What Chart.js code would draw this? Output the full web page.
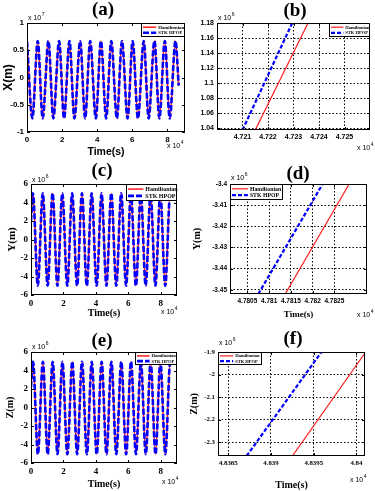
<!DOCTYPE html>
<html>
<head>
<meta charset="utf-8">
<script src="https://cdn.jsdelivr.net/npm/chart.js@4.4.0/dist/chart.umd.min.js"></script>
<style>
html, body { margin: 0; padding: 0; background: #fff; }
#fig { position: relative; width: 375px; height: 491px; overflow: hidden; }
#fig canvas { position: absolute; }
</style>
</head>
<body>
<div id="fig"></div>
<script>
// ---- data (time in s, position in m) ----

// (a) X over one day: start, turning points, end
const xDayTime = [0, 3050, 6100, 8950, 12200, 15000, 18300, 21100, 24200, 27000, 30300, 33100, 36000, 39200, 42100,
    45100, 48000, 51200, 54100, 57300, 60200, 63200, 66500, 69300, 72600, 75400, 78500, 81300, 84600, 86400];
const xDayValue = [0.66e7, -0.75e7, 0.67e7, -0.75e7, 0.67e7, -0.75e7, 0.67e7, -0.75e7, 0.67e7, -0.75e7, 0.67e7, -0.75e7,
    0.67e7, -0.75e7, 0.67e7, -0.75e7, 0.67e7, -0.75e7, 0.67e7, -0.75e7, 0.67e7, -0.75e7, 0.67e7, -0.75e7, 0.67e7,
    -0.75e7, 0.67e7, -0.75e7, 0.67e7, -0.15e7];

// (c) Y over one day
const yDayTime = [0, 1200, 4200, 7250, 10250, 13300, 16300, 19300, 22350, 25400, 28400, 31400, 34400, 37400, 40450,
    43500, 46500, 49500, 52550, 55600, 58600, 61600, 64650, 67700, 70700, 73700, 76700, 79700, 82750, 85800, 86400];
const yDayValue = [2.0e6, 5.0e6, -5.0e6, 5.0e6, -5.0e6, 5.0e6, -5.0e6, 5.0e6, -5.0e6, 5.0e6, -5.0e6, 5.0e6, -5.0e6,
    5.0e6, -5.0e6, 5.0e6, -5.0e6, 5.0e6, -5.0e6, 5.0e6, -5.0e6, 5.0e6, -5.0e6, 5.0e6, -5.0e6, 5.0e6, -5.0e6, 5.0e6,
    -5.0e6, 5.0e6, 4.8e6];

// (e) Z over one day
const zDayTime = [0, 1250, 4250, 7300, 10300, 13350, 16350, 19350, 22400, 25450, 28450, 31450, 34450, 37450, 40500,
    43550, 46550, 49550, 52600, 55650, 58650, 61650, 64700, 67750, 70750, 73750, 76750, 79750, 82800, 85850, 86400];
const zDayValue = [2.2e6, 4.95e6, -5.05e6, 4.95e6, -5.05e6, 4.95e6, -5.05e6, 4.95e6, -5.05e6, 4.95e6, -5.05e6, 4.95e6,
    -5.05e6, 4.95e6, -5.05e6, 4.95e6, -5.05e6, 4.95e6, -5.05e6, 4.95e6, -5.05e6, 4.95e6, -5.05e6, 4.95e6, -5.05e6,
    4.95e6, -5.05e6, 4.95e6, -5.05e6, 4.95e6, 4.7e6];

// (b) zoom on X
const bHamTime = [47215, 47235.7];
const bHamValue = [1.0377e6, 1.18e6];
const bHpopTime = [47210, 47229.5];
const bHpopValue = [1.0377e6, 1.18e6];

// (d) zoom on Y
const dHamTime = [47813.7, 47828.4];
const dHamValue = [-3.452e6, -3.4e6];
const dHpopTime = [47807.5, 47822.3];
const dHpopValue = [-3.452e6, -3.4e6];

// (f) zoom on Z
const fHamTime = [48392.5, 48400.9];
const fHamValue = [-2.361e6, -1.91e6];
const fHpopTime = [48387.15, 48395.9];
const fHpopValue = [-2.361e6, -1.9e6];

// tick values
const dayTimeTicks = [0, 20000, 40000, 60000, 80000];
const aYTicks = [-1e7, -0.5e7, 0, 0.5e7, 1e7];
const ceYTicks = [-6e6, -4e6, -2e6, 0, 2e6, 4e6, 6e6];
const bXTicks = [47210, 47220, 47230, 47240, 47250];
const bYTicks = [1.04e6, 1.06e6, 1.08e6, 1.1e6, 1.12e6, 1.14e6, 1.16e6, 1.18e6];
const dXTicks = [47805, 47810, 47815, 47820, 47825];
const dYTicks = [-3.45e6, -3.44e6, -3.43e6, -3.42e6, -3.41e6, -3.4e6];
const fXTicks = [48385, 48390, 48395, 48400];
const fYTicks = [-2.3e6, -2.2e6, -2.1e6, -2e6, -1.9e6];

const seriesNames = ['Hamiltonian', 'STK HPOP'];

const SANS = '"Liberation Sans", Arial, sans-serif';
const SERIF = '"Liberation Serif", "Times New Roman", serif';

const pts = (t, v) => t.map((x, i) => ({ x: x, y: v[i] }));
const fmt = (v, e) => String(+(v / Math.pow(10, e)).toPrecision(6));

function drawExp(ctx, x, y, pow) {
    ctx.font = '7px ' + SANS;
    ctx.textAlign = 'left';
    ctx.textBaseline = 'middle';
    ctx.fillText('x 10', x, y);
    const w = ctx.measureText('x 10').width;
    ctx.font = '5px ' + SANS;
    ctx.fillText(String(pow), x + w + 0.5, y - 3);
}

// MATLAB-like frame, panel letter, exponents and in-axes legend
const matlabFrame = {
    id: 'matlabFrame',
    afterDraw(chart, args, o) {
        const ctx = chart.ctx;
        const a = chart.chartArea;
        const bx = o.box.x, by = o.box.y;
        const xs = chart.scales.x, ys = chart.scales.y;
        ctx.save();
        ctx.strokeStyle = '#000';
        ctx.lineWidth = 1;
        ctx.setLineDash([]);
        ctx.beginPath();
        xs.ticks.forEach(t => {
            const px = Math.round(xs.getPixelForValue(t.value)) + 0.5;
            ctx.moveTo(px, a.bottom); ctx.lineTo(px, a.bottom - 3);
            ctx.moveTo(px, a.top); ctx.lineTo(px, a.top + 3);
        });
        ys.ticks.forEach(t => {
            const py = Math.round(ys.getPixelForValue(t.value)) + 0.5;
            ctx.moveTo(a.left, py); ctx.lineTo(a.left + 3, py);
            ctx.moveTo(a.right, py); ctx.lineTo(a.right - 3, py);
        });
        ctx.stroke();
        ctx.strokeRect(Math.round(a.left) + 0.5, Math.round(a.top) + 0.5, Math.round(a.width) - 1, Math.round(a.height) - 1);

        ctx.fillStyle = '#000';
        ctx.font = 'bold 19px ' + SERIF;
        ctx.textAlign = 'center';
        ctx.textBaseline = 'middle';
        ctx.fillText(o.title, o.titleAt[0] - bx, o.titleAt[1] - by);

        drawExp(ctx, o.yExp[0] - bx, o.yExp[1] - by, o.yExp[2]);
        drawExp(ctx, o.xExp[0] - bx, o.xExp[1] - by, o.xExp[2]);

        // legend
        const [lx, ly, lw, lh, fs] = o.legend;
        const x0 = lx - bx, y0 = ly - by;
        ctx.fillStyle = '#fff';
        ctx.fillRect(x0, y0, lw, lh);
        ctx.strokeRect(Math.round(x0) + 0.5, Math.round(y0) + 0.5, Math.round(lw) - 1, Math.round(lh) - 1);
        const lineLen = lw * 0.3;
        chart.data.datasets.forEach((ds, i) => {
            const yy = y0 + lh * (i === 0 ? 0.3 : 0.7);
            ctx.strokeStyle = ds.borderColor;
            ctx.lineWidth = ds.borderWidth;
            ctx.setLineDash(ds.borderDash || []);
            ctx.beginPath();
            ctx.moveTo(x0 + 2, yy);
            ctx.lineTo(x0 + 2 + lineLen, yy);
            ctx.stroke();
            ctx.setLineDash([]);
            ctx.fillStyle = '#000';
            ctx.font = 'bold ' + fs + 'px ' + SERIF;
            ctx.textAlign = 'left';
            ctx.fillText(ds.label, x0 + 4 + lineLen, yy + 0.3);
        });
        ctx.restore();
    }
};

function makePanel(p) {
    const canvas = document.createElement('canvas');
    canvas.width = p.box.w;
    canvas.height = p.box.h;
    canvas.style.left = p.box.x + 'px';
    canvas.style.top = p.box.y + 'px';
    canvas.style.width = p.box.w + 'px';
    canvas.style.height = p.box.h + 'px';
    document.getElementById('fig').appendChild(canvas);

    const lh = s => s * 1.2;
    const padTop = p.area.t - p.box.y;
    const padRight = p.box.x + p.box.w - p.area.r;
    const padLeft = p.yTitle ? p.yTitle.x - lh(p.yTitle.size) / 2 - p.box.x : 0;
    const padBottom = p.xTitle ? p.box.y + p.box.h - p.xTitle.y - lh(p.xTitle.size) / 2 : 0;
    const yWidth = p.area.l - p.box.x - padLeft;
    const xHeight = p.box.y + p.box.h - padBottom - p.area.b;

    const zoomed = !!p.grid;
    const gridOpts = zoomed
        ? { display: true, drawTicks: false, color: '#000', lineWidth: 1 }
        : { display: false, drawTicks: false };
    const borderOpts = { display: false, dash: [1.5, 2] };
    const tickFont = { family: p.tickFamily, size: p.tickSize, weight: 'bold' };

    return new Chart(canvas.getContext('2d'), {
        type: 'line',
        data: {
            datasets: [
                {
                    label: seriesNames[0],
                    data: pts(p.ham[0], p.ham[1]),
                    borderColor: '#ff1a1a',
                    borderWidth: zoomed ? 1.2 : 1.5,
                    pointRadius: 0,
                    cubicInterpolationMode: zoomed ? 'default' : 'monotone',
                    order: 1
                },
                {
                    label: seriesNames[1],
                    data: pts(p.hpop[0], p.hpop[1]),
                    borderColor: '#0000ff',
                    borderWidth: zoomed ? 2.2 : 2.6,
                    borderDash: zoomed ? [4, 2] : [6, 2],
                    pointRadius: 0,
                    cubicInterpolationMode: zoomed ? 'default' : 'monotone',
                    order: 0
                }
            ]
        },
        options: {
            responsive: false,
            animation: false,
            devicePixelRatio: 1,
            layout: { padding: { top: padTop, right: padRight, left: padLeft, bottom: padBottom } },
            plugins: {
                legend: { display: false },
                tooltip: { enabled: false },
                matlabFrame: p.frame
            },
            scales: {
                x: {
                    type: 'linear',
                    min: p.xRange[0],
                    max: p.xRange[1],
                    grid: gridOpts,
                    border: borderOpts,
                    afterBuildTicks: s => { s.ticks = p.xTicks.map(v => ({ value: v })); },
                    afterFit: s => { s.height = xHeight; },
                    ticks: {
                        font: tickFont, color: '#000', padding: 3, maxRotation: 0, autoSkip: false,
                        callback: v => fmt(v, p.xExp)
                    },
                    title: p.xTitle ? {
                        display: true, text: 'Time(s)', color: '#000', padding: 0,
                        font: { family: p.xTitle.family, size: p.xTitle.size, weight: 'bold' }
                    } : { display: false }
                },
                y: {
                    type: 'linear',
                    min: p.yRange[0],
                    max: p.yRange[1],
                    grid: gridOpts,
                    border: borderOpts,
                    afterBuildTicks: s => { s.ticks = p.yTicks.map(v => ({ value: v })); },
                    afterFit: s => { s.width = yWidth; },
                    ticks: {
                        font: tickFont, color: '#000', padding: 3, autoSkip: false,
                        callback: v => fmt(v, p.yExp)
                    },
                    title: p.yTitle ? {
                        display: true, text: p.yTitle.text, color: '#000', padding: 0,
                        font: { family: p.yTitle.family, size: p.yTitle.size, weight: 'bold' }
                    } : { display: false }
                }
            }
        },
        plugins: [matlabFrame]
    });
}

// (a)
makePanel({
    box: { x: 0, y: 0, w: 186, h: 162 },
    area: { l: 27, t: 23, r: 185, b: 132 },
    xRange: [0, 90000], yRange: [-1e7, 1e7],
    xTicks: dayTimeTicks, yTicks: aYTicks, xExp: 4, yExp: 7,
    tickFamily: SANS, tickSize: 8,
    xTitle: { y: 152, size: 10.5, family: SANS },
    yTitle: { x: 9, size: 12, family: SANS, text: 'X(m)' },
    ham: [xDayTime, xDayValue], hpop: [xDayTime, xDayValue],
    frame: { box: { x: 0, y: 0 }, title: '(a)', titleAt: [103, 10], yExp: [28, 18, 7], xExp: [167, 146, 4],
        legend: [141, 23, 44, 14, 4.8] }
});

// (b)
makePanel({
    box: { x: 186, y: 0, w: 189, h: 162 },
    area: { l: 217, t: 23, r: 370, b: 130 },
    xRange: [47200, 47260], yRange: [1.0377e6, 1.18e6],
    xTicks: bXTicks, yTicks: bYTicks, xExp: 4, yExp: 6,
    tickFamily: SANS, tickSize: 7, grid: true,
    ham: [bHamTime, bHamValue], hpop: [bHpopTime, bHpopValue],
    frame: { box: { x: 186, y: 0 }, title: '(b)', titleAt: [295, 11], yExp: [218, 18, 6], xExp: [357, 148, 4],
        legend: [329, 23, 41, 14, 4.5] }
});

// (c)
makePanel({
    box: { x: 0, y: 162, w: 186, h: 160 },
    area: { l: 31, t: 184, r: 177, b: 295 },
    xRange: [0, 90000], yRange: [-6e6, 6e6],
    xTicks: dayTimeTicks, yTicks: ceYTicks, xExp: 4, yExp: 6,
    tickFamily: SERIF, tickSize: 9,
    xTitle: { y: 313, size: 10, family: SERIF },
    yTitle: { x: 12, size: 11, family: SERIF, text: 'Y(m)' },
    ham: [yDayTime, yDayValue], hpop: [yDayTime, yDayValue],
    frame: { box: { x: 0, y: 162 }, title: '(c)', titleAt: [102, 171], yExp: [32, 180, 6], xExp: [161, 312, 4],
        legend: [126, 184, 51, 17, 6] }
});

// (d)
makePanel({
    box: { x: 186, y: 162, w: 189, h: 160 },
    area: { l: 230, t: 184, r: 367, b: 294 },
    xRange: [47801, 47832.5], yRange: [-3.452e6, -3.4e6],
    xTicks: dXTicks, yTicks: dYTicks, xExp: 4, yExp: 6,
    tickFamily: SANS, tickSize: 6.5, grid: true,
    xTitle: { y: 315, size: 9, family: SERIF },
    yTitle: { x: 197, size: 10, family: SERIF, text: 'Y(m)' },
    ham: [dHamTime, dHamValue], hpop: [dHpopTime, dHpopValue],
    frame: { box: { x: 186, y: 162 }, title: '(d)', titleAt: [298, 174], yExp: [231, 178, 6], xExp: [357, 315, 4],
        legend: [230, 184, 53, 16, 5.8] }
});

// (e)
makePanel({
    box: { x: 0, y: 322, w: 186, h: 169 },
    area: { l: 31, t: 352, r: 177, b: 463 },
    xRange: [0, 90000], yRange: [-6e6, 6e6],
    xTicks: dayTimeTicks, yTicks: ceYTicks, xExp: 4, yExp: 6,
    tickFamily: SERIF, tickSize: 9,
    xTitle: { y: 484, size: 10, family: SERIF },
    yTitle: { x: 10, size: 10, family: SERIF, text: 'Z(m)' },
    ham: [zDayTime, zDayValue], hpop: [zDayTime, zDayValue],
    frame: { box: { x: 0, y: 322 }, title: '(e)', titleAt: [102, 341], yExp: [32, 347, 6], xExp: [162, 482, 4],
        legend: [135, 352, 42, 13, 4.5] }
});

// (f)
makePanel({
    box: { x: 186, y: 322, w: 189, h: 169 },
    area: { l: 218, t: 352, r: 365, b: 456 },
    xRange: [48383.8, 48401], yRange: [-2.361e6, -1.9e6],
    xTicks: fXTicks, yTicks: fYTicks, xExp: 4, yExp: 6,
    tickFamily: SERIF, tickSize: 6.8, grid: true,
    xTitle: { y: 485, size: 10, family: SERIF },
    yTitle: { x: 194, size: 10, family: SERIF, text: 'Z(m)' },
    ham: [fHamTime, fHamValue], hpop: [fHpopTime, fHpopValue],
    frame: { box: { x: 186, y: 322 }, title: '(f)', titleAt: [293, 339], yExp: [219, 343, 6], xExp: [350, 480, 4],
        legend: [218, 352, 44, 13, 4.5] }
});
</script>
</body>
</html>
